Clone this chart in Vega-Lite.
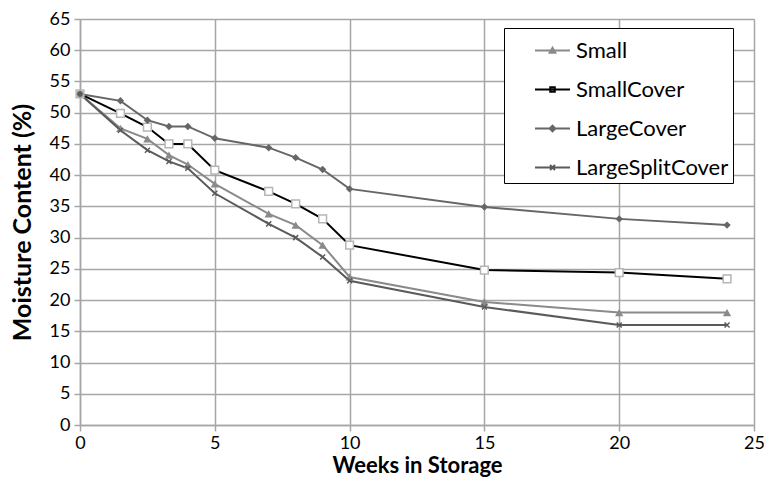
{
  "$schema": "https://vega.github.io/schema/vega-lite/v6.json",
  "width": 674,
  "height": 406,
  "autosize": {"type": "none"},
  "padding": {"left": 80, "top": 19, "right": 10, "bottom": 57},
  "background": "white",
  "config": {
    "font": "Lato",
    "view": {"stroke": null},
    "axis": {
      "gridColor": "#a6a6a6",
      "gridWidth": 1.5,
      "domainColor": "#a6a6a6",
      "domainWidth": 1.5,
      "tickColor": "#a6a6a6",
      "tickWidth": 1.5,
      "tickSize": 6,
      "labelFont": "Lato",
      "labelFontSize": 18,
      "labelColor": "#000000",
      "titleFont": "Lato",
      "titleFontSize": 22,
      "titleFontWeight": "bold",
      "titleColor": "#000000"
    }
  },
  "data": {
    "values": [
      {"week": 0, "series": "Small", "mc": 53},
      {"week": 1.5, "series": "Small", "mc": 47.5},
      {"week": 2.5, "series": "Small", "mc": 45.8},
      {"week": 3.3, "series": "Small", "mc": 43.2},
      {"week": 4, "series": "Small", "mc": 41.7},
      {"week": 5, "series": "Small", "mc": 38.6},
      {"week": 7, "series": "Small", "mc": 33.8},
      {"week": 8, "series": "Small", "mc": 32},
      {"week": 9, "series": "Small", "mc": 28.8},
      {"week": 10, "series": "Small", "mc": 23.7},
      {"week": 15, "series": "Small", "mc": 19.7},
      {"week": 20, "series": "Small", "mc": 18},
      {"week": 24, "series": "Small", "mc": 18},
      {"week": 0, "series": "SmallCover", "mc": 53},
      {"week": 1.5, "series": "SmallCover", "mc": 49.9},
      {"week": 2.5, "series": "SmallCover", "mc": 47.7},
      {"week": 3.3, "series": "SmallCover", "mc": 45},
      {"week": 4, "series": "SmallCover", "mc": 45},
      {"week": 5, "series": "SmallCover", "mc": 40.8},
      {"week": 7, "series": "SmallCover", "mc": 37.4},
      {"week": 8, "series": "SmallCover", "mc": 35.4},
      {"week": 9, "series": "SmallCover", "mc": 33},
      {"week": 10, "series": "SmallCover", "mc": 28.8},
      {"week": 15, "series": "SmallCover", "mc": 24.8},
      {"week": 20, "series": "SmallCover", "mc": 24.4},
      {"week": 24, "series": "SmallCover", "mc": 23.4},
      {"week": 0, "series": "LargeCover", "mc": 53},
      {"week": 1.5, "series": "LargeCover", "mc": 51.9},
      {"week": 2.5, "series": "LargeCover", "mc": 48.8},
      {"week": 3.3, "series": "LargeCover", "mc": 47.8},
      {"week": 4, "series": "LargeCover", "mc": 47.8},
      {"week": 5, "series": "LargeCover", "mc": 45.9},
      {"week": 7, "series": "LargeCover", "mc": 44.4},
      {"week": 8, "series": "LargeCover", "mc": 42.8},
      {"week": 9, "series": "LargeCover", "mc": 40.9},
      {"week": 10, "series": "LargeCover", "mc": 37.8},
      {"week": 15, "series": "LargeCover", "mc": 34.9},
      {"week": 20, "series": "LargeCover", "mc": 33},
      {"week": 24, "series": "LargeCover", "mc": 32},
      {"week": 0, "series": "LargeSplitCover", "mc": 53},
      {"week": 1.5, "series": "LargeSplitCover", "mc": 47.2},
      {"week": 2.5, "series": "LargeSplitCover", "mc": 44},
      {"week": 3.3, "series": "LargeSplitCover", "mc": 42.2},
      {"week": 4, "series": "LargeSplitCover", "mc": 41.1},
      {"week": 5, "series": "LargeSplitCover", "mc": 37.1},
      {"week": 7, "series": "LargeSplitCover", "mc": 32.2},
      {"week": 8, "series": "LargeSplitCover", "mc": 30},
      {"week": 9, "series": "LargeSplitCover", "mc": 26.9},
      {"week": 10, "series": "LargeSplitCover", "mc": 23.1},
      {"week": 15, "series": "LargeSplitCover", "mc": 18.9},
      {"week": 20, "series": "LargeSplitCover", "mc": 16},
      {"week": 24, "series": "LargeSplitCover", "mc": 16}
    ]
  },
  "encoding": {
    "x": {
      "field": "week",
      "type": "quantitative",
      "title": "Weeks in Storage",
      "scale": {"domain": [0, 25], "nice": false, "zero": false},
      "axis": {"values": [0, 5, 10, 15, 20, 25], "labelPadding": 3, "titlePadding": 3, "labelFlush": false}
    },
    "y": {
      "field": "mc",
      "type": "quantitative",
      "title": "Moisture Content (%)",
      "scale": {"domain": [0, 65], "nice": false},
      "axis": {"values": [0, 5, 10, 15, 20, 25, 30, 35, 40, 45, 50, 55, 60, 65], "labelPadding": 4, "titlePadding": 14, "titleFontSize": 25, "labelFlush": false}
    }
  },
  "layer": [
    {
      "mark": {"type": "line", "strokeWidth": 2},
      "encoding": {
        "color": {
          "field": "series",
          "type": "nominal",
          "sort": ["Small", "SmallCover", "LargeCover", "LargeSplitCover"],
          "scale": {
            "domain": ["Small", "SmallCover", "LargeCover", "LargeSplitCover"],
            "range": ["#8a8a8a", "#000000", "#666666", "#5a5a5a"]
          },
          "legend": {
            "title": null,
            "orient": "none",
            "legendX": 424,
            "legendY": 9,
            "fillColor": "white",
            "strokeColor": "#000000",
            "padding": 4,
            "labelFont": "Lato",
            "labelFontSize": 22,
            "labelColor": "#000000",
            "labelOffset": 5,
            "rowPadding": 9,
            "symbolSize": 1225,
            "symbolOffset": 26,
            "symbolStrokeWidth": 2,
            "encode": {
              "symbols": {
                "update": {
                  "shape": {"signal": "datum.value === 'Small' ? 'M-1,0H1M-0.16,0.13L0,-0.16L0.16,0.13Z' : datum.value === 'SmallCover' ? 'M-1,0H1M-0.13,-0.13H0.13V0.13H-0.13Z' : datum.value === 'LargeCover' ? 'M-1,0H1M0,-0.16L0.16,0L0,0.16L-0.16,0Z' : 'M-1,0H1M-0.14,-0.14L0.14,0.14M-0.14,0.14L0.14,-0.14'"},
                  "fill": {"signal": "datum.value === 'SmallCover' ? 'white' : datum.value === 'LargeSplitCover' ? 'transparent' : scale('color', datum.value)"}
                }
              }
            }
          }
        }
      }
    },
    {
      "transform": [{"filter": "datum.series === 'Small'"}],
      "mark": {"type": "point", "shape": "triangle-up", "filled": true, "opacity": 1, "size": 70, "color": "#8a8a8a"}
    },
    {
      "transform": [{"filter": "datum.series === 'SmallCover'"}],
      "mark": {"type": "point", "shape": "square", "filled": false, "opacity": 1, "size": 60, "fill": "#ffffff", "stroke": "#b5b5b5", "strokeWidth": 1.5}
    },
    {
      "transform": [{"filter": "datum.series === 'LargeCover'"}],
      "mark": {"type": "point", "shape": "diamond", "filled": true, "opacity": 1, "size": 55, "color": "#666666"}
    },
    {
      "transform": [{"filter": "datum.series === 'LargeSplitCover'"}],
      "mark": {"type": "point", "shape": "M-1,-1L1,1M-1,1L1,-1", "filled": false, "opacity": 1, "size": 25, "stroke": "#5a5a5a", "strokeWidth": 1.5}
    }
  ]
}
